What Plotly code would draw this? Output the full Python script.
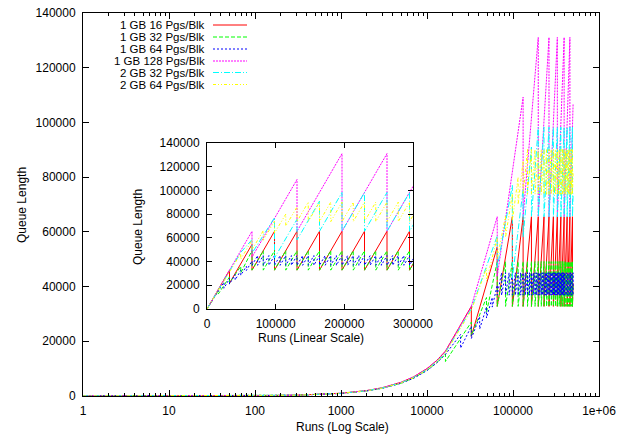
import plotly.graph_objects as go

W, H = 617, 437
PL, PR, PT, PB = 83, 599, 13, 396          # main plot box (pixels)
IL, IR, IT, IB = 207, 413, 143, 309        # inset plot box (pixels)

# ---------------- data ----------------
names = ["1 GB 16 Pgs/Blk", "1 GB 32 Pgs/Blk", "1 GB 64 Pgs/Blk",
         "1 GB 128 Pgs/Blk", "2 GB 32 Pgs/Blk", "2 GB 64 Pgs/Blk"]
run_end = 500000

# early growth, sampled runs
ramp_x = [1, 3, 10, 30, 100, 300, 1000, 2000, 3000, 5000, 7000, 10000, 13000, 16384]

# 1 GB 16 Pgs/Blk
red_ramp_y = [1, 3, 10, 30, 100, 300, 1000, 2000, 3000, 5000, 7000, 10000, 13000, 16384]
red_mid_x = [32768, 32768, 65536, 65536]
red_mid_y = [32768, 21800, 54500, 32768]
red_drops = [98304, 131072, 163840, 196608, 229376, 262144, 294912, 327680,
             360448, 393216, 425984, 458752, 491520]
red_peak, red_trough, red_end = 65536, 32768, 41200

# 1 GB 32 Pgs/Blk
green_ramp_y = [1, 3, 10, 28, 95, 285, 950, 1900, 2850, 4700, 6600, 9400, 12200, 15400]
green_mid_x = [16384, 32768, 32768, 49152, 49152]
green_mid_y = [12600, 27000, 22000, 36000, 30500]
green_drops = [65536, 81920, 98304, 114688, 131072, 147456, 163840, 180224, 196608,
               212992, 229376, 245760, 262144, 278528, 294912, 311296, 327680, 344064,
               360448, 376832, 393216, 409600, 425984, 442368, 458752, 475136, 491520]
green_peak, green_trough, green_end = 49152, 32768, 41200

# 1 GB 64 Pgs/Blk
blue_ramp_y = [1, 3, 10, 28, 93, 280, 930, 1860, 2800, 4650, 6500, 9300, 12100, 15200]
blue_mid_x = [24576, 24576, 32768, 32768, 40960, 40960, 49152, 49152, 57344, 57344, 65536, 65536]
blue_mid_y = [22500, 17500, 25500, 21000, 29000, 24500, 32500, 28500, 36000, 32500, 40500, 36864]
blue_drops = [73728, 81920, 90112, 98304, 106496, 114688, 122880, 131072, 139264, 147456,
              155648, 163840, 172032, 180224, 188416, 196608, 204800, 212992, 221184, 229376,
              237568, 245760, 253952, 262144, 270336, 278528, 286720, 294912, 303104, 311296,
              319488, 327680, 335872, 344064, 352256, 360448, 368640, 376832, 385024, 393216,
              401408, 409600, 417792, 425984, 434176, 442368, 450560, 458752, 466944, 475136,
              483328, 491520, 499712]
blue_peak, blue_trough, blue_end = 45056, 36864, 37100

# 1 GB 128 Pgs/Blk
mag_ramp_y = [1, 3, 10, 30, 100, 300, 1000, 2000, 3000, 5000, 7000, 10000, 13000, 16384]
mag_mid_x = [32768, 65536, 65536, 131072, 131072]
mag_mid_y = [32768, 65536, 43700, 109200, 65536]
mag_drops = [196608, 262144, 327680, 393216, 458752]
mag_peak, mag_trough, mag_end = 131072, 65536, 106800

# 2 GB 32 Pgs/Blk
cyan_ramp_y = [1, 3, 10, 29, 97, 290, 970, 1940, 2910, 4850, 6800, 9700, 12600, 15900]
cyan_mid_x = [32768, 49152, 65536, 65536, 98304, 98304, 131072, 131072, 163840, 163840]
cyan_mid_y = [31800, 47700, 58500, 47000, 77000, 43000, 75700, 58200, 91000, 65536]
cyan_drops = [196608, 229376, 262144, 294912, 327680, 360448, 393216, 425984, 458752, 491520]
cyan_peak, cyan_trough, cyan_end = 98304, 65536, 74000

# 2 GB 64 Pgs/Blk
yel_ramp_y = [1, 3, 10, 29, 96, 288, 960, 1920, 2880, 4800, 6700, 9600, 12500, 15700]
yel_mid_x = [32768, 49152, 49152, 65536, 65536, 81920, 81920, 98304, 98304, 114688, 114688,
             131072, 131072]
yel_mid_y = [31300, 46800, 42000, 58000, 50000, 66000, 58000, 74000, 64000, 80000, 70000,
             86000, 73728]
yel_drops = [147456, 163840, 180224, 196608, 212992, 229376, 245760, 262144, 278528, 294912,
             311296, 327680, 344064, 360448, 376832, 393216, 409600, 425984, 442368, 458752,
             475136, 491520]
yel_peak, yel_trough, yel_end = 90112, 73728, 82200

colors = ["#ff0000", "#00ff00", "#0000ff", "#ff00ff", "#00ffff", "#ffff00"]
dashes = ["solid", "4px,2px", "2px,2px", "2px,1px", "6px,2px,1px,2px", "3px,2px,1px,2px,1px,2px"]


def build(ramp_y, mid_x, mid_y, drops, peak, trough, end_y):
    xs = list(ramp_x) + list(mid_x)
    ys = list(ramp_y) + list(mid_y)
    for d in drops:
        xs += [d, d]
        ys += [peak, trough]
    xs.append(run_end)
    ys.append(end_y)
    return xs, ys


series = [
    build(red_ramp_y, red_mid_x, red_mid_y, red_drops, red_peak, red_trough, red_end),
    build(green_ramp_y, green_mid_x, green_mid_y, green_drops, green_peak, green_trough, green_end),
    build(blue_ramp_y, blue_mid_x, blue_mid_y, blue_drops, blue_peak, blue_trough, blue_end),
    build(mag_ramp_y, mag_mid_x, mag_mid_y, mag_drops, mag_peak, mag_trough, mag_end),
    build(cyan_ramp_y, cyan_mid_x, cyan_mid_y, cyan_drops, cyan_peak, cyan_trough, cyan_end),
    build(yel_ramp_y, yel_mid_x, yel_mid_y, yel_drops, yel_peak, yel_trough, yel_end),
]

FONT = "Liberation Sans, Arial, sans-serif"
fig = go.Figure()

for (xs, ys), nm, c, d in zip(series, names, colors, dashes):
    fig.add_trace(go.Scatter(x=xs, y=ys, mode="lines", name=nm, showlegend=False,
                             line=dict(color=c, width=1, dash=d), xaxis="x", yaxis="y"))
for (xs, ys), nm, c, d in zip(series, names, colors, dashes):
    fig.add_trace(go.Scatter(x=xs, y=ys, mode="lines", name=nm, showlegend=False,
                             line=dict(color=c, width=1, dash=d), xaxis="x2", yaxis="y2"))

pw, ph = PR - PL, PB - PT


def px2paper_x(p):
    return (p - PL) / pw


def px2paper_y(p):
    return (PB - p) / ph


major_x = [1, 10, 100, 1000, 10000, 100000, 1000000]
major_txt = ["1", "10", "100", "1000", "10000", "100000", "1e+06"]
minor_x = [m * 10 ** k for k in range(6) for m in range(2, 10)]

axis_common = dict(showline=True, linecolor="black", linewidth=1, mirror="ticks",
                   ticks="inside", tickcolor="black", tickwidth=1, showgrid=False,
                   zeroline=False, automargin=False,
                   tickfont=dict(family=FONT, size=12, color="black"))

fig.update_layout(
    width=W, height=H,
    margin=dict(l=PL, r=W - PR, t=PT, b=H - PB, pad=0, autoexpand=False),
    paper_bgcolor="white", plot_bgcolor="white",
    showlegend=False,
    xaxis=dict(type="log", range=[0, 6], tickvals=major_x, ticktext=major_txt, ticklen=6,
               minor=dict(ticks="inside", ticklen=3, tickvals=minor_x, tickcolor="black"),
               ticklabelstandoff=4, domain=[0, 1], anchor="y", **axis_common),
    yaxis=dict(range=[0, 140000], dtick=20000, ticklen=6, tickformat="d",
               ticklabelstandoff=4, domain=[0, 1], anchor="x", **axis_common),
    xaxis2=dict(range=[0, 300000], dtick=100000, ticklen=5, tickformat="d",
                ticklabelstandoff=4,
                domain=[px2paper_x(IL), px2paper_x(IR)], anchor="y2", **axis_common),
    yaxis2=dict(range=[0, 140000], dtick=20000, ticklen=5, tickformat="d",
                ticklabelstandoff=4,
                domain=[px2paper_y(IB), px2paper_y(IT)], anchor="x2", **axis_common),
)

ann = []
# axis titles
ann.append(dict(text="Queue Length", x=px2paper_x(22), y=px2paper_y(205), textangle=-90))
ann.append(dict(text="Runs (Log Scale)", x=px2paper_x(342), y=px2paper_y(427)))
ann.append(dict(text="Queue Length", x=px2paper_x(138), y=px2paper_y(227), textangle=-90))
ann.append(dict(text="Runs (Linear Scale)", x=px2paper_x(311), y=px2paper_y(338)))
for a in ann:
    a.update(xref="paper", yref="paper", showarrow=False, xanchor="center", yanchor="middle",
             borderpad=0, font=dict(family=FONT, size=12, color="black"))

# legend (text right-aligned, sample line to the right)
row_y = [25, 37, 49, 61, 72.5, 84.5]
shapes = []
for nm, c, d, yy in zip(names, colors, dashes, row_y):
    ann.append(dict(text=nm, xref="paper", yref="paper", x=px2paper_x(206), y=px2paper_y(yy),
                    xanchor="right", yanchor="middle", showarrow=False, borderpad=0,
                    font=dict(family=FONT, size=11.5, color="black")))
    shapes.append(dict(type="line", xref="paper", yref="paper",
                       x0=px2paper_x(213), x1=px2paper_x(247),
                       y0=px2paper_y(yy), y1=px2paper_y(yy),
                       line=dict(color=c, width=1, dash=d)))

fig.update_layout(annotations=ann, shapes=shapes)
fig.write_html("out.html", config={"displayModeBar": False},
               post_script="document.body.style.margin='0';document.body.style.padding='0';")
